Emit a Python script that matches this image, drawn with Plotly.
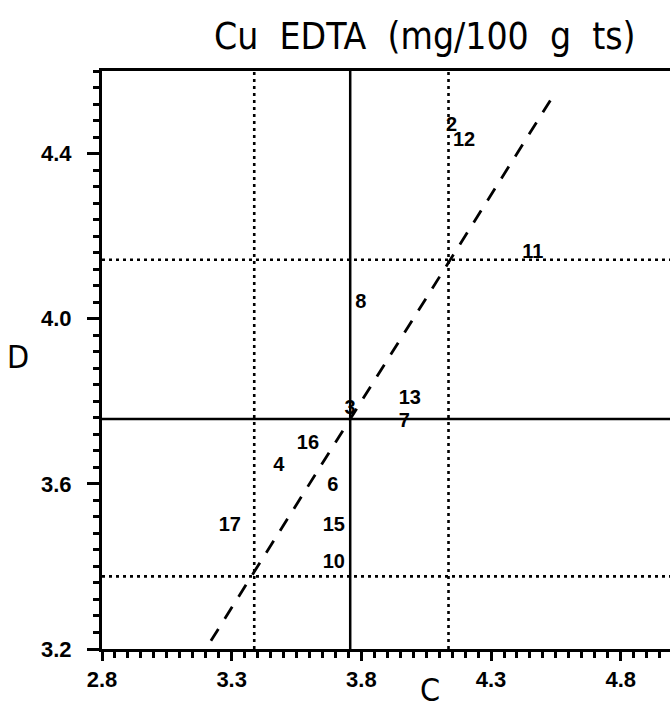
import plotly.graph_objects as go

# Data
labels = ["2", "12", "11", "8", "3", "13", "7", "16", "4", "6", "15", "10", "17"]
c_vals = [4.148, 4.196, 4.461, 3.798, 3.756, 3.987, 3.966, 3.594, 3.482, 3.690, 3.694, 3.694, 3.293]
d_vals = [4.466, 4.430, 4.158, 4.037, 3.782, 3.806, 3.751, 3.697, 3.644, 3.595, 3.498, 3.408, 3.498]

mean_c = 3.757
c_low, c_high = 3.387, 4.136
mean_d = 3.757
d_low, d_high = 3.376, 4.143
line_x = [3.22, 4.545]
line_y = [3.22, 4.545]

x_range = [2.8, 4.99]
y_range = [3.2, 4.6]

fig = go.Figure()

# identity dashed line
fig.add_trace(go.Scatter(x=line_x, y=line_y, mode="lines",
                         line=dict(color="black", width=2.8, dash="14px,12px"),
                         hoverinfo="skip"))
# solid mean lines
fig.add_trace(go.Scatter(x=[mean_c, mean_c], y=y_range, mode="lines",
                         line=dict(color="black", width=2.5), hoverinfo="skip"))
fig.add_trace(go.Scatter(x=x_range, y=[mean_d, mean_d], mode="lines",
                         line=dict(color="black", width=2.5), hoverinfo="skip"))
# dotted limit lines
for xv in [c_low, c_high]:
    fig.add_trace(go.Scatter(x=[xv, xv], y=y_range, mode="lines",
                             line=dict(color="black", width=2.6, dash="3px,4px"), hoverinfo="skip"))
for yv in [d_low, d_high]:
    fig.add_trace(go.Scatter(x=x_range, y=[yv, yv], mode="lines",
                             line=dict(color="black", width=2.6, dash="3px,4px"), hoverinfo="skip"))

# point labels
fig.add_trace(go.Scatter(x=c_vals, y=d_vals, mode="text", text=labels,
                         textposition="middle center",
                         textfont=dict(family="Liberation Sans", size=20, color="black", weight="bold"),
                         hoverinfo="skip"))

tickfont = dict(family="Liberation Sans", size=22, color="black", weight="bold")
axis_title_font = dict(family="DejaVu Sans Condensed, DejaVu Sans", size=32, color="black")

fig.update_layout(
    width=670, height=716,
    margin=dict(l=102, r=0, t=71, b=67),
    paper_bgcolor="white", plot_bgcolor="white",
    showlegend=False,
    title=dict(text="Cu&nbsp;&nbsp;EDTA&nbsp;&nbsp;(mg/100&nbsp;&nbsp;g&nbsp;&nbsp;ts)",
               x=0.634, xanchor="center", y=0.949, yanchor="middle",
               font=dict(family="DejaVu Sans Condensed, Liberation Sans Narrow, DejaVu Sans", size=37, color="black")),
    xaxis=dict(range=x_range, tick0=2.8, dtick=0.5, tickformat=".1f",
               showgrid=False, zeroline=False, automargin=False,
               showline=True, linecolor="black", linewidth=3, mirror=True,
               ticks="outside", ticklen=9, tickwidth=2.5, tickcolor="black",
               minor=dict(dtick=0.05, ticks="outside", ticklen=6, tickwidth=2.5, tickcolor="black", showgrid=False),
               tickfont=tickfont, ticklabelstandoff=0),
    yaxis=dict(range=y_range, tick0=3.2, dtick=0.4, tickformat=".1f",
               showgrid=False, zeroline=False, automargin=False,
               showline=True, linecolor="black", linewidth=3, mirror=False,
               ticks="outside", ticklen=12, tickwidth=2.5, tickcolor="black",
               minor=dict(dtick=0.04, ticks="outside", ticklen=6, tickwidth=2.5, tickcolor="black", showgrid=False),
               tickfont=tickfont, ticklabelstandoff=11),
    annotations=[
        dict(text="C", xref="paper", yref="paper", x=0.577, y=-0.071,
             xanchor="center", yanchor="middle", showarrow=False, font=axis_title_font),
        dict(text="D", xref="paper", yref="paper", x=-0.148, y=0.505,
             xanchor="center", yanchor="middle", showarrow=False, font=axis_title_font),
    ],
)

fig.write_html("out.html")
